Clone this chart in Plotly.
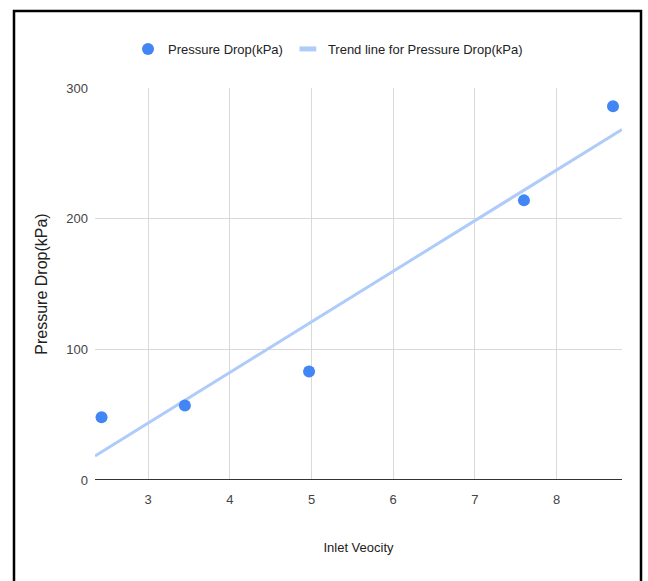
import numpy as np
import plotly.graph_objects as go

inlet_velocity = [2.43, 3.45, 4.97, 7.60, 8.69]
pressure_drop = [48, 57, 83, 214, 286]
x_ticks = [3, 4, 5, 6, 7, 8]
y_ticks = [0, 100, 200, 300]
x_range = [2.35, 8.8]

slope, intercept = np.polyfit(inlet_velocity, pressure_drop, 1)
trend_x = np.array(x_range)
trend_y = slope * trend_x + intercept

FONT = "Liberation Sans, Arial, sans-serif"

fig = go.Figure()
fig.add_trace(go.Scatter(
    x=trend_x, y=trend_y, mode="lines",
    name="Trend line for Pressure Drop(kPa)",
    line=dict(color="#aecbfa", width=3),
    showlegend=False,
))
fig.add_trace(go.Scatter(
    x=inlet_velocity, y=pressure_drop, mode="markers",
    name="Pressure Drop(kPa)",
    marker=dict(color="#4285f4", size=12),
))
# legend-only entry for trend line
fig.add_trace(go.Scatter(
    x=[None], y=[None], mode="markers",
    name="Trend line for Pressure Drop(kPa)",
    marker=dict(symbol="line-ew", size=12, line=dict(color="#aecbfa", width=6)),
))

L, R, T, B = 95, 26, 88, 101
W, H = 648, 581
pw, ph = W - L - R, H - T - B

def py(pix):
    return (H - B - pix) / ph

def px(pix):
    return (pix - L) / pw

fig.update_layout(
    width=W, height=H,
    margin=dict(l=L, r=R, t=T, b=B),
    paper_bgcolor="white", plot_bgcolor="white",
    font=dict(family=FONT, size=13, color="#444444"),
    legend=dict(orientation="h", x=px(128), xanchor="left", y=py(49), yanchor="middle",
                font=dict(size=13, color="#222222"), itemwidth=30, traceorder="normal"),
    xaxis=dict(range=x_range, tickvals=x_ticks, showgrid=True, gridcolor="#d9d9d9",
               zeroline=False, showline=False, ticks="", ticklabelstandoff=10,
               tickfont=dict(size=13, color="#444444"),
               title=dict(text="Inlet Veocity", font=dict(size=13, color="#222222"), standoff=36)),
    yaxis=dict(range=[0, 300], tickvals=y_ticks, showgrid=True, gridcolor="#d9d9d9",
               zeroline=False, showline=False, ticks="", ticklabelstandoff=6,
               tickfont=dict(size=13, color="#444444"),
               title=dict(text="Pressure Drop(kPa)", font=dict(size=16, color="#222222"), standoff=14)),
    shapes=[
        dict(type="line", xref="paper", yref="y", x0=0, x1=1, y0=0, y1=0,
             line=dict(color="#333333", width=2)),
        dict(type="rect", xref="paper", yref="paper",
             x0=px(14), x1=px(641), y0=py(600), y1=py(11),
             line=dict(color="black", width=2.5), layer="above"),
    ],
)

fig.write_html("out.html")
